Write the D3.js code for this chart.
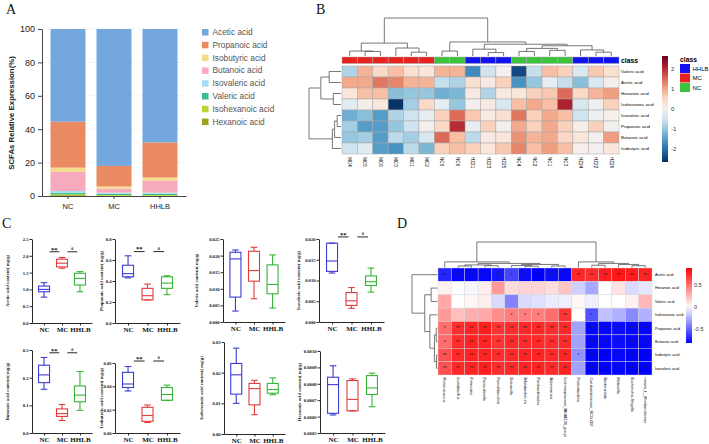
<!DOCTYPE html>
<html>
<head>
<meta charset="utf-8">
<title>SCFA figure</title>
<script src="https://cdn.jsdelivr.net/npm/d3@7"></script>
<style>
  body { margin: 0; background: #fff; }
  svg { display: block; }
</style>
</head>
<body>
<svg id="fig" width="709" height="444"></svg>
<script>
//////////////////////////////////////////////////
// Panel A : relative composition (%)
const groupsA = ["NC", "MC", "HHLB"];
const acidsA = ["Acetic acid", "Propanoic acid", "Isobutyric acid", "Butanoic acid",
                "Isovaleric acid", "Valeric acid", "Isohexanoic acid", "Hexanoic acid"];
const acidColors = ["#73a7de", "#ea8a61", "#f3dc8b", "#f8aabd", "#a5dff4", "#3fbf8e", "#bbd535", "#9ea31c"];
const pctNC   = [55.5, 27.5, 2.5, 11.5, 1.0, 1.0, 0.5, 0.5];
const pctMC   = [82.0, 12.3, 1.2, 2.5, 0.6, 0.8, 0.3, 0.3];
const pctHHLB = [67.9, 21.0, 1.8, 7.3, 0.6, 0.8, 0.3, 0.3];
const ticksA = [0, 20, 40, 60, 80, 100];

//////////////////////////////////////////////////
// Panel B : z-score heatmap
const bRows = ["Valeric acid", "Acetic acid", "Hexanoic acid", "Isohexanoic acid",
               "Isovaleric acid", "Propanoic acid", "Butanoic acid", "Isobutyric acid"];
const bCols = ["MC4", "MC5", "MC6", "MC3", "MC1", "MC2", "NC5", "NC6", "HZ21", "HZ23", "HZ25",
               "NC4", "NC2", "NC1", "NC3", "HZ24", "HZ22", "HZ26"];
const bClass = ["MC", "MC", "MC", "MC", "MC", "MC", "NC", "NC", "HHLB", "HHLB", "HHLB",
                "NC", "NC", "NC", "NC", "HHLB", "HHLB", "HHLB"];
const classNames = ["HHLB", "MC", "NC"];
const classColors = ["#1212ee", "#e8221f", "#3cc23c"];
const bZ = [
  [-0.8, 0.9, 0.5, 0.8, 0.4, 0.3, 0.9, 0.9, -1.7, -0.5, 0.0, -2.4, -0.6, 0.8, 0.6, -0.4, 0.7, 0.4],
  [1.0, 1.0, 1.4, 1.3, 0.9, 0.9, -0.6, -0.8, 0.4, 0.2, 0.6, -1.6, -1.0, -0.2, -0.6, -1.1, -0.4, 0.1],
  [0.3, 0.8, 0.8, -1.1, -1.0, -1.0, -1.3, -1.2, 0.2, -0.8, 0.2, 0.3, 0.6, 0.7, 1.5, 0.5, 0.9, 1.1],
  [-0.3, 0.1, 0.3, -2.6, -0.9, 0.5, -0.2, -1.0, 0.0, 0.2, -0.4, 0.8, 1.0, 0.8, 2.1, -0.4, -0.1, 0.6],
  [-1.3, -1.1, -1.5, -0.8, -0.5, -0.2, 0.6, 1.5, 0.7, 0.2, 0.4, 1.4, 0.6, 1.0, 0.8, -0.5, -0.1, 0.1],
  [-0.9, -1.5, -1.5, -1.0, -0.5, 0.0, 0.5, 2.0, -0.2, 0.6, 0.0, 1.0, 0.6, 1.0, 0.6, 0.1, 0.6, 0.0],
  [-1.0, -0.9, -1.5, -0.7, -0.9, -0.4, 1.5, 0.8, -0.7, 0.2, 0.3, 1.2, 0.9, 1.0, 0.5, 0.3, 0.0, 1.1],
  [-0.5, -0.3, -1.5, -1.6, -0.7, -1.2, 0.6, 0.8, 0.6, 0.3, 0.7, 1.3, 0.8, 1.1, 0.8, 0.1, 0.0, 0.3]
];
const bTicks = [-2, -1, 0, 1, 2];
// dendrograms: [height, left, right], leaves are names
const bColTree = [1.0,
  [0.34, [0.13, "MC4", [0.12, "MC5", "MC6"]], [0.21, "MC3", [0.1, "MC1", "MC2"]]],
  [0.37, [0.13, "NC5", "NC6"],
         [0.31, [0.18, "HZ21", [0.09, "HZ23", "HZ25"]],
                [0.27, [0.2, [0.12, "NC4", "NC2"], [0.15, "NC1", "NC3"]],
                       [0.16, "HZ24", [0.1, "HZ22", "HZ26"]]]]]];
const bRowTree = [1.0,
  [0.63, [0.37, "Valeric acid", "Acetic acid"], [0.24, "Hexanoic acid", "Isohexanoic acid"]],
  [0.27, [0.2, [0.12, "Isovaleric acid", "Propanoic acid"], "Butanoic acid"], "Isobutyric acid"]];

//////////////////////////////////////////////////
// Panel C : box plots (min, q1, median, q3, max) per group
const boxGroups = ["NC", "MC", "HHLB"];
const boxColors = ["#3c3cd6", "#e23c3a", "#36b436"];
const cLabels = ["Acetic acid content( mg/g)", "Propanoic acid content( mg/g)",
                 "Valeric acid content( mg/g)", "Isovaleric acid content( mg/g)",
                 "Butanoic acid content( mg/g)", "Isobutyric acid content( mg/g)",
                 "Isohexanoic acid content( mg/g)", "Hexanoic acid content( mg/g)"];
const acetic      = [[0.77, 0.93, 1.0, 1.1, 1.2], [1.63, 1.67, 1.78, 1.9, 1.95], [0.93, 1.13, 1.33, 1.48, 1.53]];
const propanoic   = [[0.43, 0.44, 0.47, 0.55, 0.64], [0.22, 0.22, 0.26, 0.33, 0.37], [0.27, 0.33, 0.38, 0.44, 0.45]];
const valeric     = [[0.0033, 0.0075, 0.019, 0.021, 0.0217], [0.007, 0.0123, 0.0155, 0.0213, 0.0225], [0.0042, 0.0085, 0.0113, 0.0172, 0.0202]];
const isovaleric  = [[0.0118, 0.0122, 0.0147, 0.019, 0.019], [0.0033, 0.004, 0.0051, 0.0071, 0.0083], [0.0072, 0.0088, 0.0097, 0.0111, 0.013]];
const butanoic    = [[0.158, 0.182, 0.21, 0.245, 0.273], [0.045, 0.06, 0.07, 0.087, 0.103], [0.082, 0.113, 0.137, 0.17, 0.222]];
const isobutyric  = [[0.036, 0.039, 0.042, 0.052, 0.057], [0.009, 0.01, 0.015, 0.022, 0.024], [0.028, 0.028, 0.033, 0.039, 0.041]];
const isohexanoic = [[0.01, 0.013, 0.0193, 0.023, 0.028], [0.0063, 0.0095, 0.0148, 0.0165, 0.0175], [0.0128, 0.0133, 0.0145, 0.0165, 0.0183]];
const hexanoic    = [[0.00061, 0.00062, 0.000795, 0.00084, 0.00091], [0.000635, 0.000635, 0.000705, 0.00082, 0.00083], [0.00066, 0.000735, 0.000775, 0.00085, 0.000865]];
const cStats = [acetic, propanoic, valeric, isovaleric, butanoic, isobutyric, isohexanoic, hexanoic];
const cDomains = [[0, 2.5], [0, 0.8], [0, 0.025], [0, 0.02], [0, 0.3], [0, 0.06], [0, 0.03], [0.0005, 0.001]];
const cTickStep = [0.5, 0.2, 0.005, 0.005, 0.1, 0.02, 0.01, 0.0001];
const cFormats = [".1f", ".1f", ".3f", ".3f", ".1f", ".2f", ".2f", ".4f"];
const sigPairs = [["NC", "MC", "**"], ["MC", "HHLB", "#"]];
const cSigLevel = [2.12, 0.68, null, 0.0205, 0.29, 0.0617, null, null];

//////////////////////////////////////////////////
// Panel D : correlation heatmap
const dRows = ["Acetic acid", "Hexanoic acid", "Valeric acid", "Isohexanoic acid",
               "Propanoic acid", "Butanoic acid", "Isobutyric acid", "Isovaleric acid"];
const dCols = ["Ruminococcus", "Lactobacillus", "Firmicutes", "Parasutterella", "Faecalibaculum",
               "Dubosiella", "Bifidobacterium", "Parabacteroides", "Akkermansia",
               "Lachnospiraceae_NK4A136_group", "Proteobacteria", "Coriobacteriaceae_UCG-002",
               "Bacteroidota", "Klebsiella", "Escherichia-Shigella", "norank_f__Muribaculaceae"];
const dR = [
  [-0.7, -0.8, -0.8, -0.8, -0.75, -0.6, -0.78, -0.82, -0.78, -0.8, 0.75, 0.72, 0.78, 0.8, 0.78, 0.76],
  [0.05, 0.0, -0.03, 0.06, 0.35, 0.12, 0.15, 0.15, 0.12, 0.2, -0.15, -0.28, 0.0, 0.1, -0.12, -0.08],
  [0.3, 0.0, 0.03, 0.06, -0.12, -0.4, -0.12, -0.1, -0.06, -0.05, 0.03, -0.05, 0.0, 0.0, 0.05, 0.25],
  [0.35, 0.22, 0.28, 0.3, 0.4, 0.45, 0.45, 0.45, 0.5, 0.7, 0.0, -0.55, -0.2, -0.25, -0.38, -0.25],
  [0.5, 0.72, 0.75, 0.78, 0.7, 0.72, 0.74, 0.74, 0.72, 0.74, -0.3, -0.8, -0.8, -0.78, -0.8, -0.8],
  [0.5, 0.72, 0.76, 0.76, 0.7, 0.74, 0.74, 0.74, 0.72, 0.74, -0.3, -0.8, -0.8, -0.78, -0.8, -0.8],
  [0.6, 0.74, 0.76, 0.76, 0.72, 0.74, 0.76, 0.76, 0.74, 0.76, -0.35, -0.82, -0.82, -0.8, -0.82, -0.82],
  [0.6, 0.74, 0.76, 0.78, 0.72, 0.74, 0.76, 0.76, 0.74, 0.76, -0.3, -0.82, -0.82, -0.8, -0.82, -0.82]
];
const dStars = [
  ["**", "**", "**", "**", "**", "*", "**", "**", "**", "**", "**", "**", "**", "**", "**", "**"],
  ["", "", "", "", "", "", "", "", "", "", "", "", "", "", "", ""],
  ["", "", "", "", "", "", "", "", "", "", "", "", "", "", "", ""],
  ["", "", "", "", "", "*", "*", "*", "", "**", "", "*", "", "", "", ""],
  ["*", "**", "**", "**", "**", "**", "**", "**", "**", "**", "", "**", "**", "**", "**", "**"],
  ["*", "**", "**", "**", "**", "**", "**", "**", "**", "**", "", "**", "**", "**", "**", "**"],
  ["**", "**", "**", "**", "**", "**", "**", "**", "**", "**", "*", "**", "**", "**", "**", "**"],
  ["**", "**", "**", "**", "**", "**", "**", "**", "**", "**", "", "**", "**", "**", "**", "**"]
];
const dTicks = [-0.5, 0, 0.5];
const dColTree = [1.0,
  [0.22, "Ruminococcus",
    [0.16, [0.1, [0.06, "Lactobacillus", "Firmicutes"], [0.07, "Parasutterella", "Faecalibaculum"]],
           [0.12, [0.08, "Dubosiella", [0.05, "Bifidobacterium", "Parabacteroides"]],
                  [0.06, "Akkermansia", "Lachnospiraceae_NK4A136_group"]]]],
  [0.22, "Proteobacteria",
    [0.16, [0.09, "Coriobacteriaceae_UCG-002", "Bacteroidota"],
           [0.12, "Klebsiella", [0.07, "Escherichia-Shigella", "norank_f__Muribaculaceae"]]]]];
const dRowTree = [1.0, "Acetic acid",
  [0.5, [0.25, "Hexanoic acid", "Valeric acid"],
        [0.3, "Isohexanoic acid", [0.12, [0.05, "Propanoic acid", "Butanoic acid"],
                                         [0.04, "Isobutyric acid", "Isovaleric acid"]]]]];

//////////////////////////////////////////////////
const SANS = "'Liberation Sans', Arial, sans-serif";
const SERIF = "'Liberation Serif', 'Times New Roman', serif";
const svg = d3.select("#fig");
svg.append("rect").attr("width", 709).attr("height", 444).attr("fill", "#fff");

//Panel letters
[["A", 6, 14], ["B", 316, 14], ["C", 2, 228], ["D", 397, 228]].forEach(l => {
  svg.append("text").attr("x", l[1]).attr("y", l[2]).text(l[0])
     .attr("font-family", SERIF).attr("font-size", 14).attr("fill", "#111");
});

//Draws an elbow dendrogram from a nested [h, left, right] tree
function drawDendro(g, tree, leafPos, hPos, vertical) {
  const links = [];
  (function walk(node) {
    if (typeof node === "string") return { p: leafPos(node), h: 0 };
    const a = walk(node[1]), b = walk(node[2]);
    links.push({ a: a, b: b, h: node[0] });
    return { p: (a.p + b.p) / 2, h: node[0] };
  })(tree);
  g.selectAll("path").data(links).join("path")
   .attr("fill", "none").attr("stroke", "#555").attr("stroke-width", 0.8)
   .attr("d", d => vertical
     ? `M${d.a.p},${hPos(d.a.h)}V${hPos(d.h)}H${d.b.p}V${hPos(d.b.h)}`
     : `M${hPos(d.a.h)},${d.a.p}H${hPos(d.h)}V${d.b.p}H${hPos(d.b.h)}`);
}

//////////////////////////////////////////////////
// Panel A
(function panelA() {
  const g = svg.append("g").attr("font-family", SANS);
  const x = d3.scaleBand().domain(groupsA).range([42, 186]).paddingInner(0.239).paddingOuter(0.185);
  const y = d3.scaleLinear().domain([0, 100]).range([196, 29]);
  const color = d3.scaleOrdinal(acidsA, acidColors);
  const pct = [pctNC, pctMC, pctHHLB];
  const table = groupsA.map((grp, gi) => {
    const o = { group: grp };
    acidsA.forEach((a, i) => o[a] = pct[gi][i]);
    return o;
  });
  const stack = d3.stack().keys(acidsA.slice().reverse())(table);

  g.append("g").selectAll("line").data(ticksA.slice(1)).join("line")
   .attr("x1", 42).attr("x2", 186).attr("y1", d => y(d)).attr("y2", d => y(d))
   .attr("stroke", "#e4e4e4").attr("stroke-dasharray", "3,2").attr("stroke-width", 0.7);

  g.append("g").selectAll("g").data(stack).join("g")
   .attr("fill", d => color(d.key))
   .selectAll("rect").data(d => d).join("rect")
   .attr("x", d => x(d.data.group)).attr("width", x.bandwidth())
   .attr("y", d => y(d[1])).attr("height", d => y(d[0]) - y(d[1]));

  const ya = g.append("g").attr("transform", "translate(42,0)")
    .call(d3.axisLeft(y).tickValues(ticksA).tickSize(4).tickSizeOuter(0));
  const xa = g.append("g").attr("transform", "translate(0,196)")
    .call(d3.axisBottom(x).tickSize(3).tickSizeOuter(0));
  [ya, xa].forEach(a => {
    a.selectAll("path,line").attr("stroke", "#444");
    a.selectAll("text").attr("font-family", SANS).attr("fill", "#222");
  });
  ya.selectAll("text").attr("font-size", 9);
  xa.selectAll("text").attr("font-size", 7.5).attr("dy", "0.9em");

  g.append("text").attr("transform", "translate(14,113) rotate(-90)")
   .attr("text-anchor", "middle").attr("font-size", 7.8).attr("font-weight", "bold")
   .attr("fill", "#222").text("SCFAs Relative Expression(%)");

  const leg = g.append("g").selectAll("g").data(acidsA).join("g")
    .attr("transform", (d, i) => `translate(202,${29 + i * 12.8})`);
  leg.append("rect").attr("width", 6.5).attr("height", 6.5).attr("fill", d => color(d));
  leg.append("text").attr("x", 10.5).attr("y", 6).attr("font-size", 8.3).attr("fill", "#555").text(d => d);
})();

//////////////////////////////////////////////////
// Panel B
(function panelB() {
  const g = svg.append("g").attr("font-family", SANS);
  const x = d3.scaleBand().domain(bCols).range([342, 619]);
  const y = d3.scaleBand().domain(bRows).range([66, 154]);
  const color = d3.scaleSequential(t => d3.interpolateRdBu(1 - t)).domain([-2.65, 2.65]);
  const clsColor = d3.scaleOrdinal(classNames, classColors);

  const cells = [];
  bRows.forEach((r, i) => bCols.forEach((c, j) => cells.push({ r: r, c: c, v: bZ[i][j] })));
  g.append("g").selectAll("rect").data(cells).join("rect")
   .attr("x", d => x(d.c)).attr("y", d => y(d.r))
   .attr("width", x.bandwidth()).attr("height", y.bandwidth())
   .attr("fill", d => color(d.v)).attr("stroke", "#a8a8a8").attr("stroke-width", 0.5);

  g.append("g").selectAll("rect").data(bCols).join("rect")
   .attr("x", d => x(d)).attr("y", 57).attr("width", x.bandwidth()).attr("height", 6.5)
   .attr("fill", (d, j) => clsColor(bClass[j])).attr("stroke", "#a8a8a8").attr("stroke-width", 0.5);
  g.append("text").attr("x", 621).attr("y", 62.5).attr("font-size", 6.8).attr("font-weight", "bold").text("class");

  g.append("g").selectAll("text").data(bRows).join("text")
   .attr("x", 621).attr("y", d => y(d) + y.bandwidth() / 2).attr("dy", "0.35em")
   .attr("font-size", 4.4).text(d => d);
  g.append("g").selectAll("text").data(bCols).join("text")
   .attr("transform", d => `translate(${x(d) + x.bandwidth() / 2},157) rotate(90)`)
   .attr("dy", "0.35em").attr("font-size", 4.6).text(d => d);

  drawDendro(g.append("g"), bColTree, n => x(n) + x.bandwidth() / 2,
             d3.scaleLinear().domain([0, 1]).range([56, 18]), true);
  drawDendro(g.append("g"), bRowTree, n => y(n) + y.bandwidth() / 2,
             d3.scaleLinear().domain([0, 1]).range([341, 309]), false);

  // colour key
  const grad = svg.append("defs").append("linearGradient").attr("id", "gradB")
    .attr("x1", 0).attr("y1", 1).attr("x2", 0).attr("y2", 0);
  d3.range(0, 1.0001, 0.1).forEach(t => grad.append("stop")
    .attr("offset", t).attr("stop-color", color(-2.65 + t * 5.3)));
  const cy = d3.scaleLinear().domain([-2.65, 2.65]).range([162, 56]);
  g.append("rect").attr("x", 662).attr("y", 56).attr("width", 6).attr("height", 106).attr("fill", "url(#gradB)");
  g.append("g").selectAll("text").data(bTicks).join("text")
   .attr("x", 671).attr("y", d => cy(d)).attr("dy", "0.35em")
   .attr("font-size", 6).attr("fill", "#333").text(d => d);

  // class legend
  g.append("text").attr("x", 680).attr("y", 62).attr("font-size", 6.8).attr("font-weight", "bold").text("class");
  const lg = g.append("g").selectAll("g").data(classNames).join("g")
    .attr("transform", (d, i) => `translate(680,${64 + i * 9.5})`);
  lg.append("rect").attr("width", 10).attr("height", 9).attr("fill", d => clsColor(d));
  lg.append("text").attr("x", 12.5).attr("y", 4.5).attr("dy", "0.35em").attr("font-size", 6).text(d => d);
})();

//////////////////////////////////////////////////
// Panel C
(function panelC() {
  const layout = [
    { ax: 32, top: 239, bot: 323, right: 92, lab: 9 },
    { ax: 115, top: 239, bot: 323, right: 180, lab: 103 },
    { ax: 223, top: 239, bot: 322, right: 285, lab: 198 },
    { ax: 319, top: 239, bot: 322, right: 384, lab: 300 },
    { ax: 32, top: 350, bot: 433, right: 92, lab: 9 },
    { ax: 115, top: 363, bot: 433, right: 180, lab: 103 },
    { ax: 224, top: 342, bot: 434, right: 285, lab: 203 },
    { ax: 320, top: 351, bot: 433, right: 385, lab: 301 }
  ];
  const color = d3.scaleOrdinal(boxGroups, boxColors);
  const bw = 11;

  cStats.forEach((stats, k) => {
    const L = layout[k];
    const g = svg.append("g").attr("font-family", SERIF).attr("font-weight", "bold");
    const dom = cDomains[k], step = cTickStep[k];
    const y = d3.scaleLinear().domain(dom).range([L.bot, L.top]);
    const x = d3.scalePoint().domain(boxGroups).range([L.ax, L.right]).padding(0.67);
    const ticks = d3.range(0, Math.round((dom[1] - dom[0]) / step) + 1).map(i => dom[0] + i * step);

    const ya = g.append("g").attr("transform", `translate(${L.ax},0)`)
      .call(d3.axisLeft(y).tickValues(ticks).tickFormat(d3.format(cFormats[k])).tickSize(2.5).tickSizeOuter(0));
    const xa = g.append("g").attr("transform", `translate(0,${L.bot})`)
      .call(d3.axisBottom(x).tickSize(2.5).tickSizeOuter(0));
    [ya, xa].forEach(a => {
      a.selectAll("path,line").attr("stroke", "#111").attr("stroke-width", 0.9);
      a.selectAll("text").attr("font-family", SERIF).attr("font-weight", "bold").attr("fill", "#111");
    });
    ya.selectAll("text").attr("font-size", 4.6).attr("x", -3.5);
    xa.selectAll("text").attr("font-size", 7).attr("y", 4.5);

    g.append("text").attr("transform", `translate(${L.lab},${(L.top + L.bot) / 2}) rotate(-90)`)
     .attr("text-anchor", "middle").attr("font-size", 4.7).attr("fill", "#111").text(cLabels[k]);

    const box = g.append("g").selectAll("g").data(stats).join("g")
      .attr("stroke", (d, i) => color(boxGroups[i])).attr("stroke-width", 1.1).attr("fill", "none")
      .attr("transform", (d, i) => `translate(${x(boxGroups[i])},0)`);
    box.append("line").attr("y1", d => y(d[0])).attr("y2", d => y(d[1]));
    box.append("line").attr("y1", d => y(d[3])).attr("y2", d => y(d[4]));
    box.append("line").attr("x1", -bw * 0.3).attr("x2", bw * 0.3).attr("y1", d => y(d[0])).attr("y2", d => y(d[0]));
    box.append("line").attr("x1", -bw * 0.3).attr("x2", bw * 0.3).attr("y1", d => y(d[4])).attr("y2", d => y(d[4]));
    box.append("rect").attr("x", -bw / 2).attr("width", bw)
       .attr("y", d => y(d[3])).attr("height", d => Math.max(0.5, y(d[1]) - y(d[3])));
    box.append("line").attr("x1", -bw / 2).attr("x2", bw / 2).attr("y1", d => y(d[2])).attr("y2", d => y(d[2]));

    if (cSigLevel[k] !== null) {
      const s = x.step(), ly = y(cSigLevel[k]);
      sigPairs.forEach(p => {
        const x1 = x(p[0]) + 0.3 * s, x2 = x(p[1]) - 0.15 * s;
        g.append("line").attr("x1", x1).attr("x2", x2).attr("y1", ly).attr("y2", ly)
         .attr("stroke", "#111").attr("stroke-width", 0.9);
        g.append("text").attr("x", (x1 + x2) / 2).attr("y", ly - (p[2] === "#" ? 2 : 0.2))
         .attr("text-anchor", "middle").attr("font-size", p[2] === "#" ? 5 : 6.5)
         .attr("fill", "#111").text(p[2]);
      });
    }
  });
})();

//////////////////////////////////////////////////
// Panel D
(function panelD() {
  const g = svg.append("g").attr("font-family", SANS);
  const x = d3.scaleBand().domain(dCols).range([438, 652]);
  const y = d3.scaleBand().domain(dRows).range([268, 375]);
  const color = d3.scaleLinear().domain([-0.82, 0, 0.88]).range(["#0000ff", "#ffffff", "#ff0000"]);

  const cells = [];
  dRows.forEach((r, i) => dCols.forEach((c, j) => cells.push({ r: r, c: c, v: dR[i][j], s: dStars[i][j] })));
  g.append("g").selectAll("rect").data(cells).join("rect")
   .attr("x", d => x(d.c)).attr("y", d => y(d.r))
   .attr("width", x.bandwidth()).attr("height", y.bandwidth())
   .attr("fill", d => color(d.v)).attr("stroke", "#d4d4d4").attr("stroke-width", 0.4);
  g.append("g").selectAll("text").data(cells.filter(d => d.s)).join("text")
   .attr("x", d => x(d.c) + x.bandwidth() / 2).attr("y", d => y(d.r) + y.bandwidth() / 2 + 2)
   .attr("text-anchor", "middle").attr("font-size", 5).attr("fill", "#222").text(d => d.s);

  g.append("g").selectAll("text").data(dRows).join("text")
   .attr("x", 655).attr("y", d => y(d) + y.bandwidth() / 2).attr("dy", "0.35em")
   .attr("font-size", 3.8).text(d => d);
  g.append("g").selectAll("text").data(dCols).join("text")
   .attr("transform", d => `translate(${x(d) + x.bandwidth() / 2},377.5) rotate(90)`)
   .attr("dy", "0.35em").attr("font-size", 3.8).text(d => d);

  drawDendro(g.append("g"), dColTree, n => x(n) + x.bandwidth() / 2,
             d3.scaleLinear().domain([0, 1]).range([267.5, 242]), true);
  drawDendro(g.append("g"), dRowTree, n => y(n) + y.bandwidth() / 2,
             d3.scaleLinear().domain([0, 1]).range([437.5, 412]), false);

  const grad = svg.select("defs").append("linearGradient").attr("id", "gradD")
    .attr("x1", 0).attr("y1", 1).attr("x2", 0).attr("y2", 0);
  d3.range(0, 1.0001, 0.1).forEach(t => grad.append("stop")
    .attr("offset", t).attr("stop-color", color(-0.82 + t * 1.7)));
  const cy = d3.scaleLinear().domain([-0.82, 0.88]).range([343, 268]);
  g.append("rect").attr("x", 686).attr("y", 268).attr("width", 6).attr("height", 75).attr("fill", "url(#gradD)");
  g.append("g").selectAll("text").data(dTicks).join("text")
   .attr("x", 694).attr("y", d => cy(d)).attr("dy", "0.35em")
   .attr("font-size", 5.5).attr("fill", "#333").text(d => d);
})();
</script>
</body>
</html>
